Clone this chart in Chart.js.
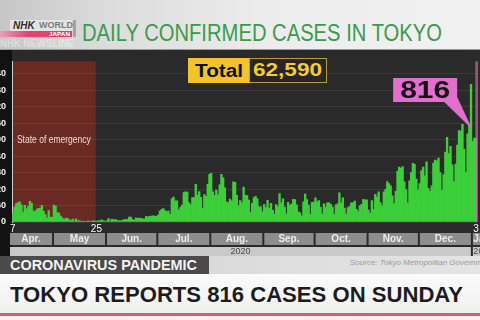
<!DOCTYPE html>
<html><head><meta charset="utf-8">
<script src="https://cdn.jsdelivr.net/npm/chart.js@4.4.1/dist/chart.umd.min.js"></script>
<style>
html,body{margin:0;padding:0;width:480px;height:320px;overflow:hidden;background:#ffffff;font-family:"Liberation Sans",Arial,sans-serif;position:relative;}
.abs{position:absolute;}
.fit{white-space:nowrap;display:inline-block;transform-origin:left top;}
#header{left:0;top:0;width:480px;height:49px;background:linear-gradient(to right,#c6c6c6 0%,#dcdcdc 22%,#ececec 55%,#f1f1f1 100%);border-bottom:1px solid #9a9a9a;}
#logoBox{left:10px;top:20px;width:62px;height:11px;background:#e4e4e4;}
#logoNHK{left:13px;top:20px;font-size:10px;font-weight:bold;font-style:italic;color:#3a2a30;line-height:11px;}
#logoWorld{left:39px;top:20px;font-size:9px;font-weight:bold;color:#7a7a7a;line-height:11px;}
#logoBand{left:0;top:31px;width:72px;height:6px;background:linear-gradient(to right,#e8a0b4,#e0436f 40%);}
#logoJapan{left:49px;top:31px;font-size:6px;font-weight:bold;color:#fff;line-height:6px;}
#logoBar{left:73px;top:20px;width:3px;height:17px;background:#a2a2a2;}
#ghost{left:0;top:38px;font-size:11px;font-weight:bold;color:rgba(255,255,255,0.4);line-height:11px;}
#title{left:82px;top:21px;font-size:23px;color:#3c9a4c;line-height:24px;}
#wrap{left:-20px;top:50px;width:500px;height:206px;}
#total{left:188px;top:58px;height:25px;z-index:5;}
#totLab{left:0;top:0;width:61px;height:25px;background:#f1c428;}
#totLabT{left:7px;top:3px;font-size:18px;font-weight:bold;color:#111;line-height:20px;}
#totVal{left:61px;top:0;width:76px;height:23px;background:#262626;border:1px solid #b59c3c;}
#totValT{left:4px;top:1px;font-size:19px;font-weight:bold;color:#f3cb36;line-height:21px;}
#lower{left:0;top:256px;width:480px;height:18px;background:linear-gradient(to right,#cdcdcd,#dedede 60%,#e4e4e4);}
#topic{left:0;top:256px;width:209px;height:18px;background:#4a4a4a;}
#topicT{left:10px;top:258px;font-size:14px;font-weight:bold;color:#f4f4f4;line-height:15px;}
#source{left:350px;top:258px;font-size:8px;font-style:italic;color:#9a9a9a;line-height:9px;}
#band{left:0;top:274px;width:480px;height:39px;background:linear-gradient(to bottom,#fbfbfb,#f0f0f0);}
#headline{left:10px;top:284px;font-size:22px;font-weight:bold;color:#1c1c1c;line-height:22px;}
#pink{left:0;top:313px;width:480px;height:3px;background:#d7587c;}
#under{left:0;top:316px;width:480px;height:4px;background:#fbeef1;}
</style></head>
<body>
<div id="header" class="abs"></div>
<div id="logoBand" class="abs"></div>
<div id="logoBox" class="abs"></div>
<div id="logoNHK" class="abs">NHK</div>
<div id="logoWorld" class="abs">WORLD</div>
<div id="logoJapan" class="abs fit">JAPAN</div>
<div id="logoBar" class="abs"></div>
<div id="ghost" class="abs fit">NHK NEWSLINE</div>
<div id="title" class="abs fit">DAILY CONFIRMED CASES IN TOKYO</div>

<div id="wrap" class="abs"><canvas id="c" width="500" height="206"></canvas></div>

<div id="total" class="abs">
  <div id="totLab" class="abs"></div>
  <div id="totLabT" class="abs fit">Total</div>
  <div id="totVal" class="abs"></div>
  <div id="totValT" class="abs fit" style="left:65px;">62,590</div>
</div>

<div id="lower" class="abs"></div>
<div id="topic" class="abs"></div>
<div id="topicT" class="abs fit">CORONAVIRUS PANDEMIC</div>
<div id="source" class="abs fit">Source: Tokyo Metropolitan Government</div>
<div id="band" class="abs"></div>
<div id="headline" class="abs fit">TOKYO REPORTS 816 CASES ON SUNDAY</div>
<div id="pink" class="abs"></div>
<div id="under" class="abs"></div>

<script>
// ---- data (daily confirmed cases in Tokyo, Apr 7 2020 - Jan 3 2021) ----
const monthNames = ['Apr.','May','Jun.','Jul.','Aug.','Sep.','Oct.','Nov.','Dec.','Jan.'];
const monthYears = [2020,2020,2020,2020,2020,2020,2020,2020,2020,2021];
const monthFirstDay = [7,1,1,1,1,1,1,1,1,1];
const casesApr = [79,144,178,189,197,166,91,161,127,149,201,181,107,102,123,132,134,161,103,72,39,112,47,46];
const casesMay = [165,154,91,87,58,38,23,39,36,22,15,28,10,30,9,14,5,10,5,5,11,3,2,14,8,10,11,15,22,14,5];
const casesJun = [13,34,12,28,20,26,14,13,12,18,22,25,24,47,48,27,16,41,35,39,35,29,31,55,48,54,57,60,58,54];
const casesJul = [67,107,124,131,111,102,106,75,224,243,206,206,119,143,165,286,293,290,188,168,237,238,366,260,295,239,131,266,250,367,463];
const casesAug = [472,292,258,309,263,360,462,429,331,197,188,222,206,389,385,260,161,207,186,339,258,256,212,95,182,236,250,226,148,148,100];
const casesSep = [170,141,211,136,181,116,77,170,149,276,187,226,146,80,191,163,173,220,218,167,98,88,59,195,270,218,165,78,191,194];
const casesOct = [235,196,207,143,78,177,142,186,187,172,146,78,166,177,284,185,235,134,78,139,150,185,186,203,124,102,158,171,221,215,215];
const casesNov = [116,87,209,122,269,242,294,189,157,293,317,393,374,352,255,180,298,493,534,522,539,391,314,186,401,481,570,561,418,311];
const casesDec = [372,500,533,449,584,327,299,352,572,602,595,621,480,305,460,678,822,664,736,556,392,563,748,888,884,949,708,481,856,944,1337];
const casesJan = [783,814,816];
const monthCases = [casesApr,casesMay,casesJun,casesJul,casesAug,casesSep,casesOct,casesNov,casesDec,casesJan];
const emergencyStart = '2020-04-07';
const emergencyEnd = '2020-05-25';
const markedDates = ['2020-04-07','2020-05-25','2021-01-03'];
const totalCases = '62,590';
const yMax = 1560, yGridStep = 40, yLabelStep = 80;

// ---- build categories ----
const pad = n => String(n).padStart(2,'0');
const labels = [], cases = [], monthStart = [];
monthCases.forEach((arr, m) => {
  monthStart.push(labels.length);
  const mm = (m + 4 - 1) % 12 + 1;
  arr.forEach((v, i) => {
    labels.push(monthYears[m] + '-' + pad(mm) + '-' + pad(monthFirstDay[m] + i));
    cases.push(v);
  });
});
const lastIdx = cases.length - 1;
const emS = labels.indexOf(emergencyStart), emE = labels.indexOf(emergencyEnd);

// ---- fit html text to widths ----
function fit(id, w){ const el=document.getElementById(id); const r=el.getBoundingClientRect().width; el.style.transform='scaleX('+(w/r)+')'; }
fit('title', 360); fit('totLabT', 48); fit('totValT', 69); fit('topicT', 187); fit('headline', 453); fit('ghost', 74); fit('logoJapan', 21);

const FONT = '"Liberation Sans", Arial, sans-serif';
Chart.defaults.font.family = FONT;

const decor = {
  id: 'decor',
  beforeDraw(chart){
    const {ctx, chartArea:a, scales:{x}} = chart;
    const half = (x.getPixelForValue(1) - x.getPixelForValue(0)) / 2;
    ctx.save();
    ctx.fillStyle = '#2a2a2a'; ctx.fillRect(0, 0, chart.width, chart.height);
    ctx.fillStyle = '#121212'; ctx.fillRect(0, 0, a.left, chart.height);
    const e0 = x.getPixelForValue(emS) - half, e1 = x.getPixelForValue(emE) + half;
    ctx.fillStyle = '#6a2a24'; ctx.fillRect(e0, a.top, e1 - e0, a.bottom - a.top);
    ctx.fillStyle = 'rgba(178,96,140,0.8)';
    ctx.fillRect(x.getPixelForValue(lastIdx) - half, a.top, 2 * half + 1, a.bottom - a.top);
    ctx.restore();
  },
  afterDraw(chart){
    const {ctx, chartArea:a, scales:{x,y}} = chart;
    const half = (x.getPixelForValue(1) - x.getPixelForValue(0)) / 2;
    const edge = i => i >= labels.length ? x.getPixelForValue(labels.length-1) + half : x.getPixelForValue(i) - half;
    ctx.save();
    // state of emergency text
    const e0 = edge(emS), e1 = x.getPixelForValue(emE) + half;
    ctx.fillStyle = '#f4d4d0'; ctx.font = '10px ' + FONT; ctx.textAlign = 'center'; ctx.textBaseline = 'middle';
    ctx.fillText('State of emergency', (e0 + e1) / 2, 90, 74);
    // month row
    const rowY = a.bottom + 11, rowH = 12;
    for (let m = 0; m < monthNames.length; m++) {
      const l = m === 0 ? a.left - 2 : edge(monthStart[m]) + 1;
      const r = m === monthNames.length - 1 ? chart.width : edge(monthStart[m+1]) - 1;
      ctx.fillStyle = '#8d8d8d'; ctx.fillRect(l, rowY, r - l, rowH);
      ctx.save(); ctx.beginPath(); ctx.rect(l, rowY, r - l, rowH); ctx.clip();
      ctx.fillStyle = '#ececec'; ctx.font = 'bold 10px ' + FONT; ctx.textBaseline = 'middle';
      if (m === monthNames.length - 1) { ctx.textAlign = 'left'; ctx.fillText(monthNames[m], l + 0.5, rowY + rowH/2 + 0.5); }
      else { ctx.textAlign = 'center'; ctx.fillText(monthNames[m], (l + r) / 2, rowY + rowH/2 + 0.5); }
      ctx.restore();
    }
    // year row
    const yrY = a.bottom + 25, yrH = 9;
    const janI = monthStart[monthStart.length - 1];
    const yrs = [[a.left - 2, edge(janI) - 1, String(monthYears[0])], [edge(janI) + 1, chart.width, String(monthYears[monthYears.length-1])]];
    yrs.forEach(([l, r, t], k) => {
      ctx.fillStyle = '#c9c9c9'; ctx.fillRect(l, yrY, r - l, yrH);
      ctx.save(); ctx.beginPath(); ctx.rect(l, yrY, r - l, yrH); ctx.clip();
      ctx.fillStyle = '#4a4a4a'; ctx.font = '9px ' + FONT; ctx.textBaseline = 'middle';
      if (k === 0) { ctx.textAlign = 'center'; ctx.fillText(t, (l + r) / 2, yrY + yrH/2 + 0.5); }
      else { ctx.textAlign = 'left'; ctx.fillText(t, l + 0.5, yrY + yrH/2 + 0.5); }
      ctx.restore();
    });
    // day marks under the plot
    ctx.fillStyle = '#ffffff'; ctx.font = '10px ' + FONT; ctx.textAlign = 'center'; ctx.textBaseline = 'top';
    markedDates.forEach(d => {
      const i = labels.indexOf(d);
      ctx.fillText(String(parseInt(d.slice(8), 10)), x.getPixelForValue(i) + (i === 48 ? 1.5 : 0), a.bottom + 2);
    });
    // callout for the latest day
    const lx = x.getPixelForValue(lastIdx), ly = y.getPixelForValue(cases[lastIdx]);
    const tipX = lx - 4, tipY = ly - 9;
    const bR = tipX - 15, bL = bR - 64, bB = tipY - 27, bT = bB - 24;
    ctx.fillStyle = '#e26fce';
    ctx.beginPath(); ctx.moveTo(bR - 14, bB - 1); ctx.lineTo(bR, bB - 5); ctx.lineTo(tipX, tipY); ctx.closePath(); ctx.fill();
    ctx.fillRect(bL, bT, bR - bL, bB - bT);
    ctx.fillStyle = '#151015'; ctx.font = 'bold 24px ' + FONT; ctx.textAlign = 'center'; ctx.textBaseline = 'middle';
    const txt = String(cases[lastIdx]); const tw = ctx.measureText(txt).width;
    ctx.translate((bL + bR) / 2, (bT + bB) / 2 + 1); ctx.scale(50 / tw, 1);
    ctx.fillText(txt, 0, 0);
    ctx.restore();
  }
};

new Chart(document.getElementById('c'), {
  type: 'bar',
  data: { labels: labels, datasets: [{
    data: cases,
    backgroundColor: cases.map((v, i) => i === lastIdx ? '#c873a4' : '#3dcf3a'),
    borderWidth: 0, barPercentage: 1, categoryPercentage: 1
  }]},
  options: {
    responsive: false, animation: false,
    layout: { padding: { left: 0, right: 3, top: 2, bottom: 0 } },
    plugins: { legend: { display: false }, tooltip: { enabled: false } },
    scales: {
      x: {
        grid: { display: false, drawTicks: false }, border: { display: false },
        ticks: { display: false },
        afterFit: s => { s.height = 34; }
      },
      y: {
        min: 0, max: yMax,
        ticks: { stepSize: yGridStep, padding: 6, color: '#f2f2f2', font: { size: 9, weight: 'bold' },
          callback: v => (v % yLabelStep === 0 ? String(v) : '') },
        grid: { color: 'rgba(255,255,255,0.08)', drawTicks: false },
        border: { display: true, color: '#cfcfcf', width: 1 },
        afterFit: s => { s.width = 32; }
      }
    }
  },
  plugins: [decor]
});
</script>
</body></html>
